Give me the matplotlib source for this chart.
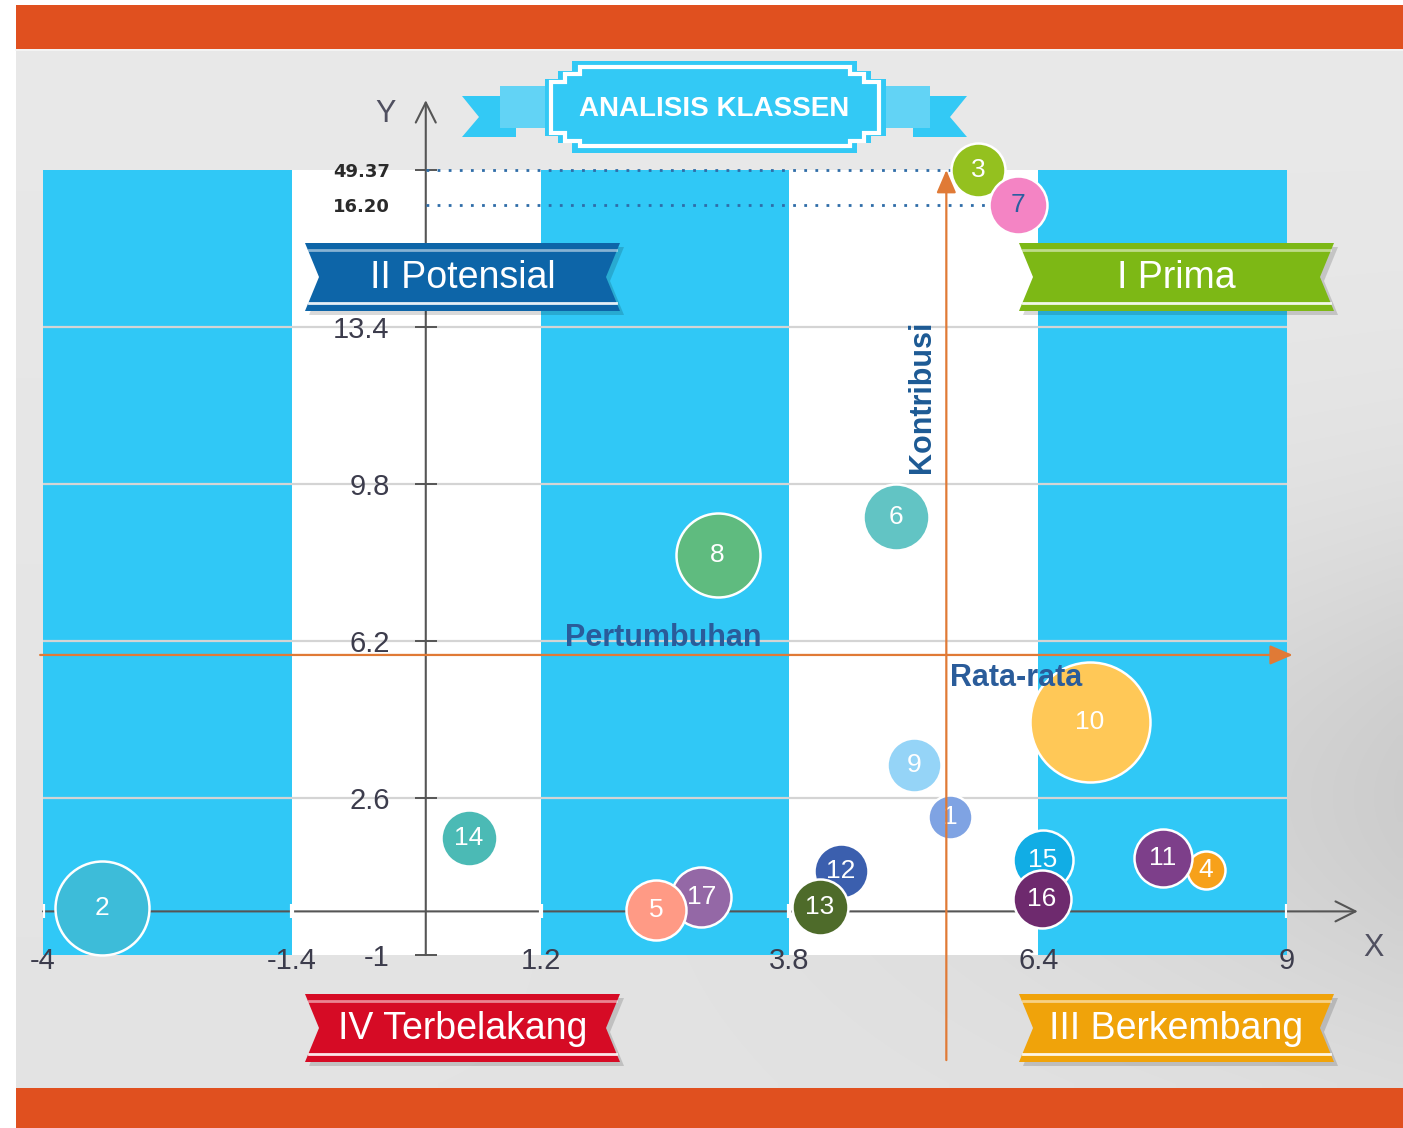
import numpy as np
import matplotlib
matplotlib.use('Agg')
import matplotlib.pyplot as plt
from matplotlib.patches import Polygon, Rectangle

plt.rcParams['font.family'] = ['Liberation Sans', 'DejaVu Sans']

# ---------------- data ----------------
kab_id = [str(i) for i in range(1, 18)]
pertumbuhan = [5.48, -3.38, 5.77, 8.15, 2.41, 4.91, 6.19, 3.05, 5.10,
               6.94, 7.70, 4.34, 4.12, 0.45, 6.45, 6.44, 2.88]
kontribusi = [2.16, 0.08, 49.37, 0.95, 0.03, 9.04, 16.20, 8.17, 3.36,
              4.34, 1.22, 0.93, 0.10, 1.68, 1.18, 0.28, 0.33]
bobot = [23, 48, 28, 20, 31, 34, 30, 43, 28, 61, 30, 28, 29, 29, 31, 30, 31]
rata_pertumbuhan = 5.44
rata_kontribusi = 5.88
x_ticks = [-4, -1.4, 1.2, 3.8, 6.4, 9]
x_tick_labels = ['-4', '-1.4', '1.2', '3.8', '6.4', '9']
y_ticks = [-1, 2.6, 6.2, 9.8, 13.4, 16.20, 49.37]
y_tick_labels = ['-1', '2.6', '6.2', '9.8', '13.4', '16.20', '49.37']
quadrants = ['I Prima', 'II Potensial', 'III Berkembang', 'IV Terbelakang']
title = 'ANALISIS KLASSEN'

# ---------------- style ----------------
bubble_colors = ['#7FA3E3', '#3DBCD9', '#94C11F', '#F7A11A', '#FF9A85', '#62C4C4',
                 '#F484C4', '#5FBB7F', '#95D4F7', '#FFC857', '#7D3F8A', '#3B5FAE',
                 '#4E6B2A', '#4BBAB5', '#11ADE5', '#6E2A6E', '#9468A6']
label_colors = ['white'] * 17
label_colors[6] = '#2B5FA0'
draw_order = [2, 14, 8, 6, 9, 1, 3, 7, 10, 4, 11, 12, 13, 15, 16, 17, 5]
BAND_BLUE = '#30C8F6'
ORANGE = '#E07A36'
TEXT_BLUE = '#2A5C9A'

Y_BREAK, Y_MAX, Y_TOP = y_ticks[5], y_ticks[6], 17.0


def ymap(v):
    v = np.asarray(v, dtype=float)
    return np.where(v <= Y_BREAK, v, Y_BREAK + (v - Y_BREAK) / (Y_MAX - Y_BREAK) * (Y_TOP - Y_BREAK))


W, H = 1403, 1128
fig = plt.figure(figsize=(W / 100, H / 100), dpi=100)

# ---------------- background ----------------
bg = fig.add_axes([0, 0, 1, 1], zorder=0)
bg.set_xlim(0, W)
bg.set_ylim(H, 0)
bg.axis('off')
gy, gx = np.mgrid[49:1088:120j, 16:1403:140j]
v = (233 - 6 * (gy / H) - 24 * (gx / W) ** 3 * np.exp(-((gy - 790) / 270) ** 2)) / 255
bg.imshow(np.dstack([v, v, v]), extent=(16, 1403, 1088, 49), aspect='auto',
          interpolation='bilinear', zorder=0)
bg.add_patch(Rectangle((16, 5), W - 16, 44, fc='#E0501F', lw=0, zorder=1))
bg.add_patch(Rectangle((16, 1088), W - 16, 40, fc='#E0501F', lw=0, zorder=1))
bg.plot([16, W], [50, 50], color='#F6F6F6', lw=1.2, zorder=1)

# ---------------- main axes ----------------
ax = fig.add_axes([43 / W, (H - 955) / H, 1244 / W, 785 / H], zorder=1)
ax.set_xlim(x_ticks[0], x_ticks[-1])
ax.set_ylim(y_ticks[0], Y_TOP)
ax.patch.set_alpha(0)
for s in ax.spines.values():
    s.set_visible(False)
ax.spines['left'].set_position(('data', 0))

for i in range(len(x_ticks) - 1):
    ax.axvspan(x_ticks[i], x_ticks[i + 1], color=BAND_BLUE if i % 2 == 0 else 'white',
               lw=0, zorder=0.5)
ax.hlines(y_ticks[1:5], x_ticks[0], x_ticks[-1], color='#D4D4D4', lw=1.6, zorder=1)

ax.set_xticks(x_ticks, x_tick_labels)
ax.set_yticks(ymap(y_ticks), y_tick_labels)
ax.tick_params(axis='x', length=0, pad=-6, labelsize=21, labelcolor='#3C3C4C')
ax.tick_params(axis='y', direction='inout', length=16, width=1.4, color='#555555',
               pad=18, labelsize=21, labelcolor='#3C3C4C')
for lab in ax.get_yticklabels()[-2:]:
    lab.set_fontsize(13)
    lab.set_fontfamily('DejaVu Sans')
    lab.set_fontweight('bold')
    lab.set_color('#2A2A2A')
ax.yaxis.get_major_ticks()[5].tick1line.set_visible(False)
ax.yaxis.get_major_ticks()[5].tick2line.set_visible(False)

# axis lines with open arrows
ax.annotate('', xy=(9.74, 0), xytext=(x_ticks[0], 0), annotation_clip=False, zorder=2,
            arrowprops=dict(arrowstyle='->,head_length=0.8,head_width=0.4', color='#555555',
                            lw=1.5, mutation_scale=18, shrinkA=0, shrinkB=0))
ax.annotate('', xy=(0, 18.6), xytext=(0, y_ticks[0]), annotation_clip=False, zorder=2,
            arrowprops=dict(arrowstyle='->,head_length=0.8,head_width=0.4', color='#555555',
                            lw=1.5, mutation_scale=18, shrinkA=0, shrinkB=0))
ax.vlines(x_ticks, -0.16, 0.16, color='white', lw=3, zorder=2.5)

# dotted guide lines for the broken-scale values
for i in range(len(kab_id)):
    if kontribusi[i] >= Y_BREAK:
        ax.hlines(ymap(kontribusi[i]), 0, pertumbuhan[i], color='#2F6DA8', lw=2,
                  linestyles=(0, (1, 3)), zorder=2.6, clip_on=False)

# bubbles
for k, num in enumerate(draw_order):
    i = num - 1
    d_pt = 1.44 * (bobot[i] - 1)
    ax.scatter([pertumbuhan[i]], [ymap(kontribusi[i])], s=d_pt ** 2, c=bubble_colors[i],
               edgecolors='white', linewidths=1.8, zorder=3 + 2 * k, clip_on=False)
    ax.text(pertumbuhan[i], float(ymap(kontribusi[i])), kab_id[i], ha='center', va='center',
            fontsize=19, color=label_colors[i], zorder=4 + 2 * k, clip_on=False)

# average lines
ax.annotate('', xy=(9.06, rata_kontribusi), xytext=(-4.03, rata_kontribusi),
            annotation_clip=False, zorder=60,
            arrowprops=dict(arrowstyle='-|>,head_length=0.7,head_width=0.3', color=ORANGE,
                            lw=1.6, mutation_scale=20, shrinkA=0, shrinkB=0))
ax.annotate('', xy=(rata_pertumbuhan, Y_TOP), xytext=(rata_pertumbuhan, -3.41),
            annotation_clip=False, zorder=60,
            arrowprops=dict(arrowstyle='-|>,head_length=0.7,head_width=0.3', color=ORANGE,
                            lw=1.6, mutation_scale=20, shrinkA=0, shrinkB=0))

# ---------------- overlay (pixel coordinates) ----------------
ov = fig.add_axes([0, 0, 1, 1], zorder=2)
ov.set_xlim(0, W)
ov.set_ylim(H, 0)
ov.axis('off')
ov.patch.set_alpha(0)


def ribbon(x0, x1, y0, y1, color, text, notch=14):
    ym = (y0 + y1) / 2
    pts = [(x0, y0), (x1, y0), (x1 - notch, ym), (x1, y1), (x0, y1), (x0 + notch, ym)]
    ov.add_patch(Polygon([(px + 4, py + 4) for px, py in pts], closed=True, fc='black',
                         alpha=0.15, lw=0))
    ov.add_patch(Polygon(pts, closed=True, fc=color, lw=0))
    ov.plot([x0 + 4, x1 - 4], [y0 + 7, y0 + 7], color='white', alpha=0.5, lw=2)
    ov.plot([x0 + 4, x1 - 4], [y1 - 8, y1 - 8], color='white', alpha=0.9, lw=2)
    ov.text((x0 + x1) / 2, ym + 1, text, color='white', fontsize=27, ha='center', va='center')


ribbon(1019, 1334, 243, 311, '#7DB815', quadrants[0])
ribbon(305, 620, 243, 311, '#0D65A8', quadrants[1])
ribbon(1019, 1334, 994, 1062, '#F0A30A', quadrants[2])
ribbon(305, 620, 994, 1062, '#D60B25', quadrants[3])

# title banner
TCYAN, TLIGHT = '#33C9F5', '#62D3F5'
ov.add_patch(Polygon([(462, 96), (516, 96), (516, 137), (462, 137), (479, 117)], fc=TCYAN, lw=0))
ov.add_patch(Polygon([(967, 96), (913, 96), (913, 137), (967, 137), (950, 117)], fc=TCYAN, lw=0))
ov.add_patch(Rectangle((500, 86), 46, 42, fc=TLIGHT, lw=0))
ov.add_patch(Rectangle((884, 86), 46, 42, fc=TLIGHT, lw=0))
outer = [(572, 61), (857, 61), (857, 71), (871, 71), (871, 79), (886, 79), (886, 136),
         (871, 136), (871, 143), (857, 143), (857, 153), (572, 153), (572, 143), (558, 143),
         (558, 136), (545, 136), (545, 79), (558, 79), (558, 71), (572, 71)]
ov.add_patch(Polygon(outer, closed=True, fc=TCYAN, lw=0))
inner = [(580, 67), (850, 67), (850, 74), (864, 74), (864, 82), (879, 82), (879, 133),
         (864, 133), (864, 141), (850, 141), (850, 146), (580, 146), (580, 141), (565, 141),
         (565, 133), (551, 133), (551, 82), (565, 82), (565, 74), (580, 74)]
ov.add_patch(Polygon(inner, closed=True, fc='none', ec='white', lw=3, joinstyle='miter'))
ov.text(714, 109, title, color='white', fontsize=20, fontweight='bold', ha='center', va='center')

# axis letters and line labels
ov.text(386, 114, 'Y', fontsize=22, color='#505060', ha='center', va='center')
ov.text(1374, 948, 'X', fontsize=22, color='#505060', ha='center', va='center')
ov.text(663, 638, 'Pertumbuhan', fontsize=22, fontweight='bold', color=TEXT_BLUE,
        ha='center', va='center')
ov.text(1016, 678, 'Rata-rata', fontsize=22, fontweight='bold', color=TEXT_BLUE,
        ha='center', va='center')
ov.text(922, 397, 'Kontribusi', fontsize=22, fontweight='bold', color='#1D5A94',
        ha='center', va='center', rotation=90)

fig.savefig('out.png', dpi=100)
